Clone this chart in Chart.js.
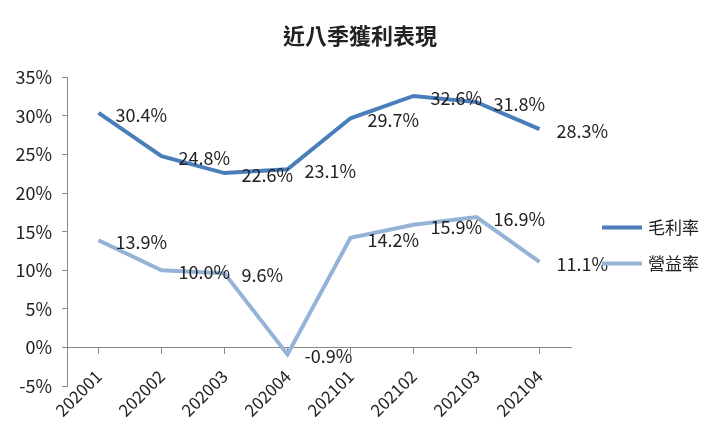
<!DOCTYPE html>
<html>
<head>
<meta charset="utf-8">
<script src="https://cdn.jsdelivr.net/npm/chart.js@4/dist/chart.umd.min.js"></script>
<style>
    html, body { margin: 0; padding: 0; background: #fff; }
    #wrap { width: 720px; height: 434px; }
</style>
</head>
<body>
<div id="wrap"><canvas id="chart" width="720" height="434"></canvas></div>
<script>
// Quarters and margins (%)
const quarters = ['202001', '202002', '202003', '202004', '202101', '202102', '202103', '202104'];
const grossMargin = [30.4, 24.8, 22.6, 23.1, 29.7, 32.6, 31.8, 28.3];
const operatingMargin = [13.9, 10.0, 9.6, -0.9, 14.2, 15.9, 16.9, 11.1];
const yTicks = { min: -5, max: 35, step: 5 };

const colors = {
    gross: '#4a7ebb',
    operating: '#95b3d7',
    text: '#222',
    axis: '#888'
};

const baseFont = '"Noto Sans CJK TC", "Noto Sans", sans-serif';

// Value labels to the right of each point
const valueLabels = {
    id: 'valueLabels',
    afterDatasetsDraw(chart) {
        const ctx = chart.ctx;
        ctx.save();
        ctx.font = '18px ' + baseFont;
        ctx.fillStyle = colors.text;
        ctx.textAlign = 'left';
        ctx.textBaseline = 'middle';
        chart.data.datasets.forEach((ds, i) => {
            chart.getDatasetMeta(i).data.forEach((pt, j) => {
                ctx.fillText(ds.data[j].toFixed(1) + '%', pt.x + 17, pt.y + 2);
            });
        });
        ctx.restore();
    }
};

// Legend on the right side, line samples like the original
const sideLegend = {
    id: 'sideLegend',
    afterDraw(chart) {
        const ctx = chart.ctx;
        const area = chart.chartArea;
        ctx.save();
        ctx.font = '17px ' + baseFont;
        ctx.textBaseline = 'middle';
        ctx.textAlign = 'left';
        chart.data.datasets.forEach((ds, i) => {
            const y = area.top + 150 + i * 36;
            const x = area.right + 31;
            ctx.strokeStyle = ds.borderColor;
            ctx.lineWidth = ds.borderWidth;
            ctx.beginPath();
            ctx.moveTo(x, y);
            ctx.lineTo(x + 40, y);
            ctx.stroke();
            ctx.fillStyle = colors.text;
            ctx.fillText(ds.label, x + 46, y);
        });
        ctx.restore();
    }
};

new Chart(document.getElementById('chart'), {
    type: 'line',
    data: {
        labels: quarters,
        datasets: [{
            label: '毛利率',
            data: grossMargin,
            borderColor: colors.gross,
            backgroundColor: colors.gross,
            borderWidth: 4,
            pointRadius: 0,
            tension: 0
        }, {
            label: '營益率',
            data: operatingMargin,
            borderColor: colors.operating,
            backgroundColor: colors.operating,
            borderWidth: 4,
            pointRadius: 0,
            tension: 0
        }]
    },
    options: {
        responsive: false,
        animation: false,
        layout: { padding: { left: 0, right: 0, top: 0, bottom: 48 } },
        plugins: {
            legend: { display: false },
            tooltip: { enabled: false },
            title: {
                display: true,
                text: '近八季獲利表現',
                color: colors.text,
                font: { family: baseFont, size: 22, weight: 'bold' },
                padding: { top: 22, bottom: 29 }
            }
        },
        scales: {
            // category labels, hung just above the bottom of the plot like the original
            x: {
                type: 'category',
                offset: true,
                position: { y: -2.4 },
                border: { display: false },
                grid: { display: false, drawTicks: false },
                ticks: {
                    color: colors.text,
                    font: { family: baseFont, size: 17 },
                    maxRotation: 45,
                    minRotation: 45,
                    padding: 0
                },
                afterFit(s) { s.height = 0; }
            },
            // axis line at 0% with tick marks between categories
            x2: {
                type: 'category',
                offset: true,
                position: { y: 0 },
                border: { display: true, color: colors.axis, width: 1 },
                grid: { display: true, drawOnChartArea: false, drawTicks: true, tickLength: 6, color: colors.axis },
                ticks: { display: false },
                afterFit(s) { s.height = 0; }
            },
            y: {
                min: yTicks.min,
                max: yTicks.max,
                border: { display: true, color: colors.axis, width: 1 },
                grid: { display: true, drawOnChartArea: false, drawTicks: true, tickLength: 5, color: colors.axis },
                ticks: {
                    stepSize: yTicks.step,
                    color: colors.text,
                    font: { family: baseFont, size: 18 },
                    padding: 10,
                    callback: v => v + '%'
                },
                afterFit(s) { s.width = 67; }
            },
            // empty right-hand box that keeps room for the legend
            legendRoom: {
                type: 'linear',
                position: 'right',
                border: { display: false },
                grid: { display: false },
                ticks: { display: false },
                afterFit(s) { s.width = 149; }
            }
        }
    },
    plugins: [valueLabels, sideLegend]
});
</script>
</body>
</html>
